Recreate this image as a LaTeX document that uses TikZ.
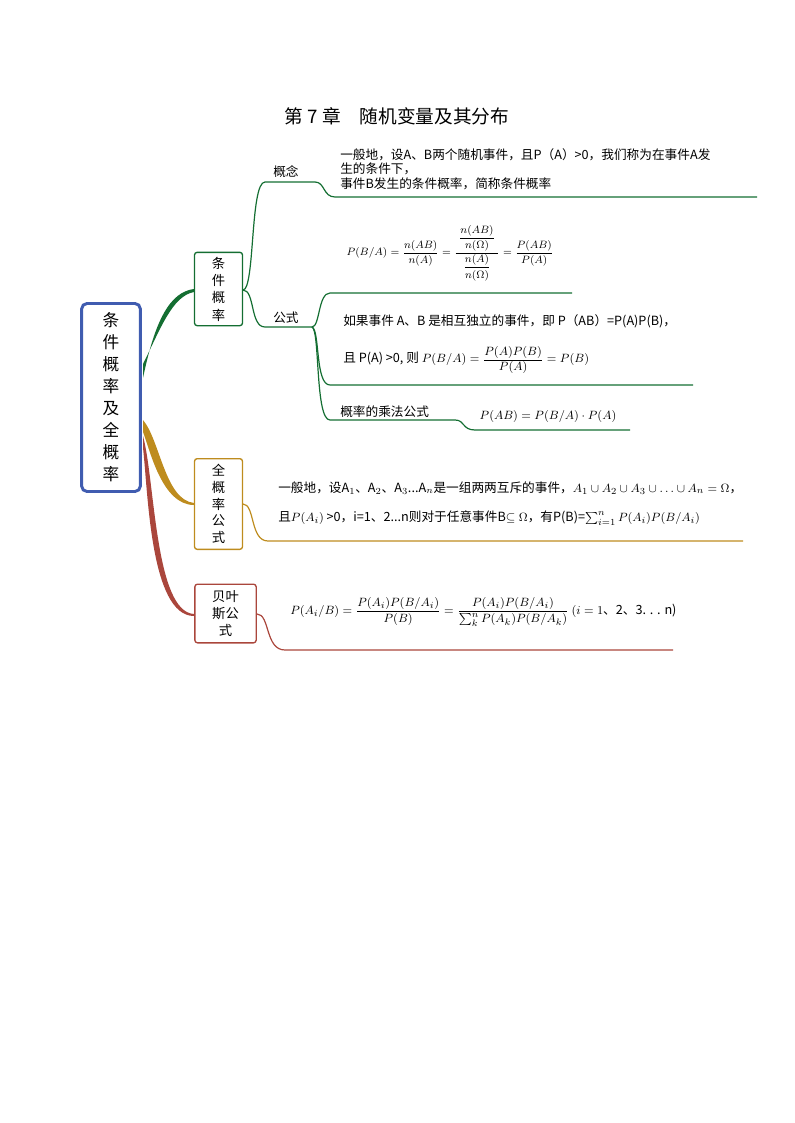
\documentclass[tikz,border=0pt]{standalone}
\usepackage{fontspec}
\usepackage{amsmath}
\setmainfont{Noto Sans CJK SC}
\usetikzlibrary{positioning}
\definecolor{mainblue}{RGB}{64,92,176}
\definecolor{brgreen}{RGB}{20,110,50}
\definecolor{brgold}{RGB}{190,140,30}
\definecolor{brred}{RGB}{170,70,60}
\tikzset{
  box/.style={draw, rounded corners=2pt, line width=1pt, align=center, font=\fontsize{10}{13}\selectfont, inner sep=1pt},
  txt/.style={anchor=west, align=left, font=\fontsize{9.5}{11}\selectfont, inner sep=0pt},
  lbl/.style={anchor=base west, font=\fontsize{9.5}{11}\selectfont, inner sep=0pt},
  branch/.style={line width=0.9pt}
}
\begin{document}
\begin{tikzpicture}[x=0.75pt,y=-0.75pt]
\useasboundingbox (0,0) rectangle (794,1123);
\node[font=\fontsize{14}{16}\selectfont] (title) at (397,116) {第 7 章\quad 随机变量及其分布};
% main box
\node[box, draw=mainblue, line width=2.2pt, minimum width=44pt, minimum height=141pt, rounded corners=4pt, font=\fontsize{12.5}{16.5}\selectfont] (main) at (111,397.5) {条\\件\\概\\率\\及\\全\\概\\率};
\node[box, draw=brgreen, minimum width=36pt, minimum height=55pt] (cond) at (218.5,289) {条\\件\\概\\率};
\node[box, draw=brgold, minimum width=36pt, minimum height=68pt, font=\fontsize{10}{12.5}\selectfont] (total) at (218.5,504) {全\\概\\率\\公\\式};
\node[box, draw=brred, minimum width=46pt, minimum height=44pt] (bayes) at (225.5,613.5) {贝叶\\斯公\\式};
% thick connectors
\fill[brgreen] (143,378) .. controls (155,320) and (170,292) .. (194,289)
  -- (194,292) .. controls (172,296) and (160,330) .. (143,364) -- cycle;
\fill[brgold] (143,420) .. controls (160,440) and (165,500) .. (194,503)
  -- (194,505) .. controls (162,505) and (150,450) .. (143,432) -- cycle;
\fill[brred] (143,436) .. controls (155,480) and (155,612) .. (194,614)
  -- (194,616) .. controls (150,616) and (148,490) .. (143,448) -- cycle;
% conditional probability branches
\coordinate (c0) at (243,290);
\node[lbl] (gn) at (273,177) {概念};
\node[lbl] (gs) at (273,322) {公式};
\draw[brgreen, branch] (c0) .. controls (255,290) and (250,182) .. (265,182) -- (315,182)
  .. controls (325,182) and (323,197) .. (335,197) -- (757,197);
\draw[brgreen, branch] (c0) .. controls (255,290) and (250,327) .. (265,327) -- (312,327);
\draw[brgreen, branch] (312,327) .. controls (320,327) and (318,293) .. (330,293) -- (572,293);
\draw[brgreen, branch] (312,327) .. controls (320,330) and (315,385) .. (330,385) -- (693,385);
\draw[brgreen, branch] (312,327) .. controls (320,330) and (315,420) .. (330,420) -- (455,420)
  .. controls (465,420) and (462,430) .. (475,430) -- (630,430);
\node[txt, anchor=north west] (def) at (340,148) {一般地，设A、B两个随机事件，且P（A）>0，我们称为在事件A发\\生的条件下，\\事件B发生的条件概率，简称条件概率};
\node[font=\footnotesize] (f1) at (450,253) {$P(B/A)=\dfrac{n(AB)}{n(A)}=\dfrac{\;\dfrac{n(AB)}{n(\Omega)}\;}{\dfrac{n(A)}{n(\Omega)}}=\dfrac{P(AB)}{P(A)}$};
\node[txt] (ind1) at (343,321) {如果事件 A、B 是相互独立的事件，即 P（AB）=P(A)P(B)，};
\node[txt] (ind2) at (343,360) {且 P(A) >0, 则 $P(B/A)=\dfrac{P(A)P(B)}{P(A)}=P(B)$};
\node[lbl] (mul) at (340,416) {概率的乘法公式};
\node[font=\small] (f2) at (548,416) {$P(AB)=P(B/A)\cdot P(A)$};
% total probability
\draw[brgold, branch] (243,504) .. controls (255,504) and (250,541) .. (268,541) -- (743,541);
\node[txt] (tot1) at (278,488) {一般地，设A$_1$、A$_2$、A$_3$...A$_n$是一组两两互斥的事件，$A_1\cup A_2\cup A_3\cup\ldots\cup A_n=\Omega$，};
\node[txt] (tot2) at (278,518) {且$P(A_i)$ >0，i=1、2...n则对于任意事件B$\subseteq\Omega$，有P(B)=$\sum\nolimits_{i=1}^{n}P(A_i)P(B/A_i)$};
% bayes
\draw[brred, branch] (257,614) .. controls (270,614) and (265,650) .. (285,650) -- (673,650);
\node[txt] (bay) at (290,612) {$P(A_i/B)=\dfrac{P(A_i)P(B/A_i)}{P(B)}=\dfrac{P(A_i)P(B/A_i)}{\sum\nolimits_{k}^{n}P(A_k)P(B/A_k)}$ $(i=1$、2、3. . . n)};
\end{tikzpicture}
\end{document}
